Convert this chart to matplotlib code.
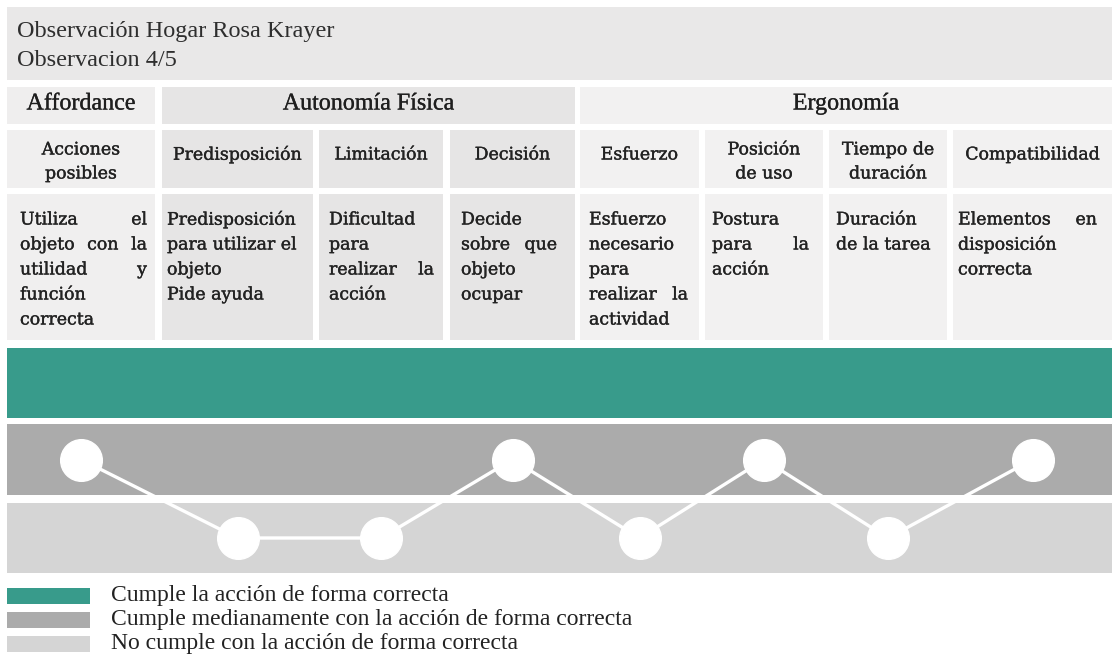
import numpy as np
import matplotlib
matplotlib.use("Agg")
import matplotlib.pyplot as plt
import matplotlib.patheffects as pe
from matplotlib.patches import Rectangle

# data
title_lines = ["Observación Hogar Rosa Krayer", "Observacion 4/5"]
groups = ["Affordance", "Autonomía Física", "Ergonomía"]
group_span = [1, 3, 4]
categories = ["Acciones\nposibles", "Predisposición", "Limitación", "Decisión",
              "Esfuerzo", "Posición\nde uso", "Tiempo de\nduración", "Compatibilidad"]
descriptions = [
    ["Utiliza el", "objeto con la", "utilidad y", "función", "correcta"],
    ["Predisposición", "para utilizar el", "objeto", "Pide ayuda"],
    ["Dificultad", "para", "realizar la", "acción"],
    ["Decide", "sobre que", "objeto", "ocupar"],
    ["Esfuerzo", "necesario", "para", "realizar la", "actividad"],
    ["Postura", "para la", "acción"],
    ["Duración", "de la tarea"],
    ["Elementos en", "disposición", "correcta"],
]
justified = [[0, 1, 2], [], [2], [1], [3], [1], [], [0]]
# 2 = cumple, 1 = cumple medianamente, 0 = no cumple
levels = [1, 0, 0, 1, 0, 1, 0, 1]
level_labels = ["No cumple con la acción de forma correcta",
                "Cumple medianamente con la acción de forma correcta",
                "Cumple la acción de forma correcta"]

# layout (pixels)
col_left = [7, 162, 319, 450, 580, 705, 829, 953]
col_right = [155, 313, 443, 575, 699, 823, 947, 1112]
pad_l = [13, 5, 10, 11, 9, 7, 7, 5]
pad_r = [8, 5, 9, 18, 11, 14, 10, 15]
band_top = [503, 424, 348]     # no / medio / cumple
band_bot = [573, 495, 418]
band_col = ["#d5d5d5", "#ababab", "#389b8b"]
group_col = ["#efeeee", "#e6e5e5", "#f2f1f1"]

serif = "Liberation Serif"
slab = "DejaVu Serif"
ink = "#222222"
heavy = [pe.withStroke(linewidth=0.25, foreground=ink)]

fig = plt.figure(figsize=(11.14, 6.66), dpi=100)
ax = fig.add_axes([0, 0, 1, 1])
ax.set_xlim(0, 1114)
ax.set_ylim(666, 0)
ax.axis("off")

# title box
ax.add_patch(Rectangle((7, 7), 1105, 73, color="#e9e8e8", lw=0))
ax.text(17, 32, title_lines[0], family=serif, fontsize=17.5, color="#2e2e2e", va="center")
ax.text(17, 60, title_lines[1], family=serif, fontsize=17.5, color="#2e2e2e", va="center")

# group header row
start = 0
for g, n, c in zip(groups, group_span, group_col):
    x0 = col_left[start]
    x1 = col_right[start + n - 1]
    ax.add_patch(Rectangle((x0, 87), x1 - x0, 37, color=c, lw=0))
    ax.text((x0 + x1) / 2, 104, g, family=serif, fontsize=17.3, color="#1e1e1e",
            ha="center", va="center",
            path_effects=[pe.withStroke(linewidth=0.2, foreground="#1e1e1e")])
    for k in range(start, start + n):
        for (y0, h) in [(130, 58), (194, 146)]:
            ax.add_patch(Rectangle((col_left[k], y0), col_right[k] - col_left[k], h,
                                   color=c if k > 0 else "#f0efef", lw=0))
    start += n

fig.canvas.draw()
renderer = fig.canvas.get_renderer()


def text_w(t):
    bb = t.get_window_extent(renderer)
    return bb.width


# category headers and descriptions
for k, cat in enumerate(categories):
    xc = (col_left[k] + col_right[k]) / 2
    lines = cat.split("\n")
    ys = [155] if len(lines) == 1 else [150, 174]
    for ln, y in zip(lines, ys):
        ax.text(xc, y, ln, family=slab, fontsize=12.5, color=ink, ha="center", va="center",
                path_effects=heavy)
    xl = col_left[k] + pad_l[k]
    xr = col_right[k] - pad_r[k]
    for i, ln in enumerate(descriptions[k]):
        y = 220 + 25 * i
        words = ln.split()
        if i in justified[k] and len(words) > 1:
            ts = [ax.text(0, y, w, family=slab, fontsize=12.5, color=ink, va="center",
                          path_effects=heavy) for w in words]
            ws = [text_w(t) for t in ts]
            gap = (xr - xl - sum(ws)) / (len(words) - 1)
            x = xl
            for t, w in zip(ts, ws):
                t.set_x(x)
                x += w + gap
        else:
            ax.text(xl, y, ln, family=slab, fontsize=12.5, color=ink, va="center",
                    path_effects=heavy)

# bands
for lv in range(3):
    ax.add_patch(Rectangle((7, band_top[lv]), 1105, band_bot[lv] - band_top[lv],
                           color=band_col[lv], lw=0))

xs = [(l + r) / 2 for l, r in zip(col_left, col_right)]
ys = [(band_top[v] + band_bot[v]) / 2 for v in levels]
ax.plot(xs, ys, color="white", lw=2.4, zorder=5)
ax.plot(xs, ys, "o", color="white", ms=30, mec="white", zorder=6)

# legend
for i, lv in enumerate([2, 1, 0]):
    y = 596 + 24 * i
    ax.add_patch(Rectangle((7, y - 8), 83, 16, color=band_col[lv], lw=0))
    ax.text(111, y, level_labels[lv], family=serif, fontsize=17, color="#222222", va="center")

fig.savefig("out.png", dpi=100)
